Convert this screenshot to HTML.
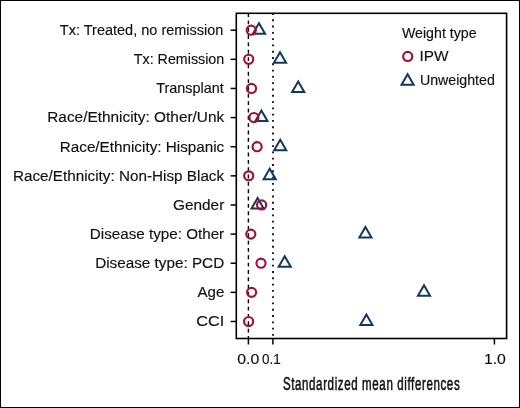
<!DOCTYPE html>
<html><head><meta charset="utf-8"><style>
html,body{margin:0;padding:0;background:#fff;}
svg{display:block;will-change:transform;}
text{font-family:"Liberation Sans",sans-serif;fill:#111;stroke:#111;stroke-width:0.15px;}
</style></head><body>
<svg width="520" height="408" viewBox="0 0 520 408">
<rect x="0.5" y="0.5" width="519" height="407" fill="#fff" stroke="#000" stroke-width="1"/>
<line x1="248.4" y1="13.09" x2="248.4" y2="338.5" stroke="#000" stroke-width="1.4" stroke-dasharray="3.9 3.44"/>
<line x1="273.0" y1="13.03" x2="273.0" y2="338.5" stroke="#000" stroke-width="1.75" stroke-dasharray="1.85 4.443"/>
<path d="M259.00,23.20L265.06,33.70L252.94,33.70Z" fill="none" stroke="#12385F" stroke-width="2.0"/>
<path d="M280.00,52.33L286.06,62.83L273.94,62.83Z" fill="none" stroke="#12385F" stroke-width="2.0"/>
<path d="M298.20,81.46L304.26,91.96L292.14,91.96Z" fill="none" stroke="#12385F" stroke-width="2.0"/>
<path d="M261.40,110.59L267.46,121.09L255.34,121.09Z" fill="none" stroke="#12385F" stroke-width="2.0"/>
<path d="M280.20,139.72L286.26,150.22L274.14,150.22Z" fill="none" stroke="#12385F" stroke-width="2.0"/>
<path d="M269.70,168.85L275.76,179.35L263.64,179.35Z" fill="none" stroke="#12385F" stroke-width="2.0"/>
<path d="M257.60,197.98L263.66,208.48L251.54,208.48Z" fill="none" stroke="#12385F" stroke-width="2.0"/>
<path d="M365.40,227.11L371.46,237.61L359.34,237.61Z" fill="none" stroke="#12385F" stroke-width="2.0"/>
<path d="M284.70,256.24L290.76,266.74L278.64,266.74Z" fill="none" stroke="#12385F" stroke-width="2.0"/>
<path d="M424.00,285.37L430.06,295.87L417.94,295.87Z" fill="none" stroke="#12385F" stroke-width="2.0"/>
<path d="M366.40,314.50L372.46,325.00L360.34,325.00Z" fill="none" stroke="#12385F" stroke-width="2.0"/>
<circle cx="251.2" cy="30.20" r="4.55" fill="none" stroke="#A60E38" stroke-width="2.15"/>
<circle cx="248.7" cy="59.33" r="4.55" fill="none" stroke="#A60E38" stroke-width="2.15"/>
<circle cx="251.5" cy="88.46" r="4.55" fill="none" stroke="#A60E38" stroke-width="2.15"/>
<circle cx="253.9" cy="117.59" r="4.55" fill="none" stroke="#A60E38" stroke-width="2.15"/>
<circle cx="257.1" cy="146.72" r="4.55" fill="none" stroke="#A60E38" stroke-width="2.15"/>
<circle cx="248.7" cy="175.85" r="4.55" fill="none" stroke="#A60E38" stroke-width="2.15"/>
<circle cx="261.6" cy="204.98" r="4.55" fill="none" stroke="#A60E38" stroke-width="2.15"/>
<circle cx="250.8" cy="234.11" r="4.55" fill="none" stroke="#A60E38" stroke-width="2.15"/>
<circle cx="261.0" cy="263.24" r="4.55" fill="none" stroke="#A60E38" stroke-width="2.15"/>
<circle cx="251.6" cy="292.37" r="4.55" fill="none" stroke="#A60E38" stroke-width="2.15"/>
<circle cx="248.6" cy="321.50" r="4.55" fill="none" stroke="#A60E38" stroke-width="2.15"/>
<rect x="236.3" y="13.3" width="270.30" height="325.20" fill="none" stroke="#000" stroke-width="1.6"/>
<line x1="230.6" y1="30.20" x2="236.3" y2="30.20" stroke="#000" stroke-width="1.5"/>
<text transform="translate(59.82,35.00) scale(0.9672,1)" style="font-size:15.0px">Tx: Treated, no remission</text>
<line x1="230.6" y1="59.33" x2="236.3" y2="59.33" stroke="#000" stroke-width="1.5"/>
<text transform="translate(133.83,64.13) scale(0.9522,1)" style="font-size:15.0px">Tx: Remission</text>
<line x1="230.6" y1="88.46" x2="236.3" y2="88.46" stroke="#000" stroke-width="1.5"/>
<text transform="translate(156.28,93.26) scale(0.9598,1)" style="font-size:15.0px">Transplant</text>
<line x1="230.6" y1="117.59" x2="236.3" y2="117.59" stroke="#000" stroke-width="1.5"/>
<text transform="translate(47.24,122.39) scale(1.0261,1)" style="font-size:15.0px">Race/Ethnicity: Other/Unk</text>
<line x1="230.6" y1="146.72" x2="236.3" y2="146.72" stroke="#000" stroke-width="1.5"/>
<text transform="translate(59.75,151.52) scale(1.0174,1)" style="font-size:15.0px">Race/Ethnicity: Hispanic</text>
<line x1="230.6" y1="175.85" x2="236.3" y2="175.85" stroke="#000" stroke-width="1.5"/>
<text transform="translate(12.95,180.65) scale(1.0182,1)" style="font-size:15.0px">Race/Ethnicity: Non-Hisp Black</text>
<line x1="230.6" y1="204.98" x2="236.3" y2="204.98" stroke="#000" stroke-width="1.5"/>
<text transform="translate(172.98,209.78) scale(1.0258,1)" style="font-size:15.0px">Gender</text>
<line x1="230.6" y1="234.11" x2="236.3" y2="234.11" stroke="#000" stroke-width="1.5"/>
<text transform="translate(89.81,238.91) scale(1.0145,1)" style="font-size:15.0px">Disease type: Other</text>
<line x1="230.6" y1="263.24" x2="236.3" y2="263.24" stroke="#000" stroke-width="1.5"/>
<text transform="translate(95.20,268.04) scale(1.0188,1)" style="font-size:15.0px">Disease type: PCD</text>
<line x1="230.6" y1="292.37" x2="236.3" y2="292.37" stroke="#000" stroke-width="1.5"/>
<text transform="translate(197.47,297.17) scale(1.0052,1)" style="font-size:15.0px">Age</text>
<line x1="230.6" y1="321.50" x2="236.3" y2="321.50" stroke="#000" stroke-width="1.5"/>
<text transform="translate(196.17,326.30) scale(1.0889,1)" style="font-size:15.0px">CCI</text>
<line x1="248.4" y1="338.5" x2="248.4" y2="344.5" stroke="#000" stroke-width="1.5"/>
<line x1="272.9" y1="338.5" x2="272.9" y2="344.5" stroke="#000" stroke-width="1.5"/>
<line x1="494.4" y1="338.5" x2="494.4" y2="344.5" stroke="#000" stroke-width="1.5"/>
<text transform="translate(237.28,364.00) scale(1.0569,1)" style="font-size:15.0px">0.0</text>
<text transform="translate(262.07,364.00) scale(0.9010,1)" style="font-size:15.0px">0.1</text>
<text transform="translate(483.89,364.00) scale(1.0563,1)" style="font-size:15.0px">1.0</text>
<text transform="translate(282.88,390.00) scale(0.6600,1)" style="font-size:17.5px;stroke:#111;stroke-width:0.55px;letter-spacing:0.934px">Standardized mean differences</text>
<text transform="translate(401.94,37.60) scale(0.9468,1)" style="font-size:15.0px">Weight type</text>
<circle cx="407.7" cy="56.4" r="4.55" fill="none" stroke="#A60E38" stroke-width="2.15"/>
<text transform="translate(419.38,61.10) scale(1.0262,1)" style="font-size:15.0px">IPW</text>
<path d="M407.60,74.20L413.66,84.70L401.54,84.70Z" fill="none" stroke="#12385F" stroke-width="2.0"/>
<text transform="translate(419.90,84.70) scale(0.9469,1)" style="font-size:15.0px">Unweighted</text>
</svg>
</body></html>
